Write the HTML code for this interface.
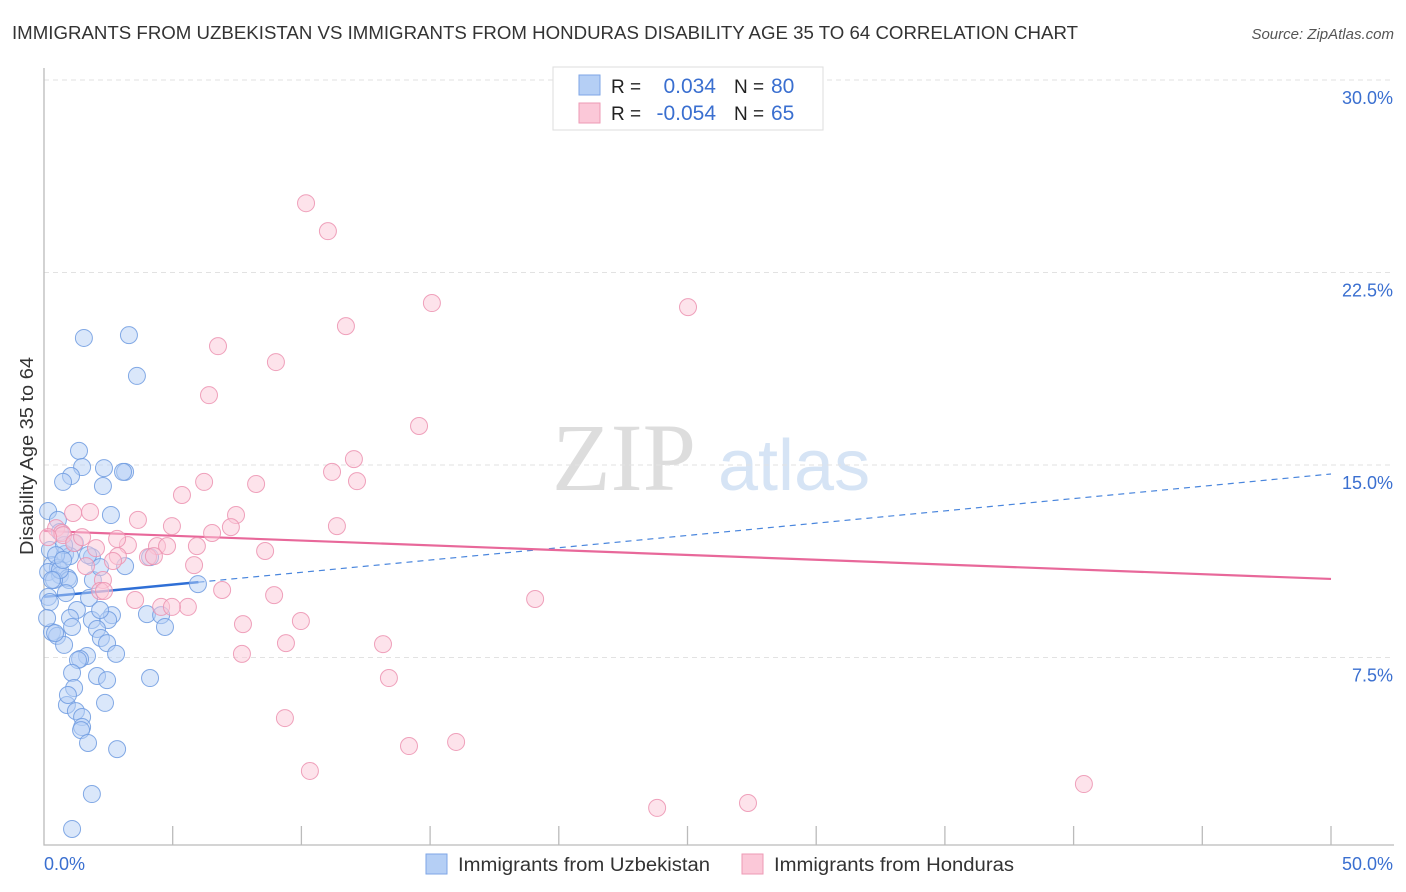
<!DOCTYPE html>
<html><head><meta charset="utf-8">
<style>
body{margin:0;background:#fff;font-family:"Liberation Sans",sans-serif;}
#wrap{position:relative;width:1406px;height:892px;overflow:hidden;}
</style></head>
<body><div id="wrap">
<svg id="svg" width="1406" height="892" xmlns="http://www.w3.org/2000/svg">
<text x="12" y="39" font-size="18.5" fill="#333" textLength="1066" lengthAdjust="spacingAndGlyphs">IMMIGRANTS FROM UZBEKISTAN VS IMMIGRANTS FROM HONDURAS DISABILITY AGE 35 TO 64 CORRELATION CHART</text>
<text x="1394" y="39" font-size="15" fill="#555" font-style="italic" text-anchor="end">Source: ZipAtlas.com</text>
<text x="33" y="456" font-size="18" fill="#333" text-anchor="middle" textLength="198" lengthAdjust="spacingAndGlyphs" transform="rotate(-90 33 456)">Disability Age 35 to 64</text>
<g><text x="552" y="490" font-family="Liberation Serif,serif" font-size="96" fill="#ddd">ZIP</text><text x="718" y="490" font-size="72" fill="#d6e4f5">atlas</text></g>
<g id="grid"></g><g id="axes"></g><g id="trend"></g><g id="pts"></g>
<g>
<rect x="553" y="67" width="270" height="63" fill="#fff" stroke="#ddd"/>
<rect x="579" y="75" width="21" height="20" fill="#b5cff5" stroke="#7ea6e6"/>
<rect x="579" y="103" width="21" height="20" fill="#fbc8d8" stroke="#ee9ab5"/>
<text x="611" y="93" font-size="19" fill="#222">R =</text><text x="716" y="93" font-size="21" fill="#3a6fd0" text-anchor="end">0.034</text>
<text x="734" y="93" font-size="19" fill="#222">N =</text><text x="771" y="93" font-size="21" fill="#3a6fd0">80</text>
<text x="611" y="120" font-size="19" fill="#222">R =</text><text x="716" y="120" font-size="21" fill="#3a6fd0" text-anchor="end">-0.054</text>
<text x="734" y="120" font-size="19" fill="#222">N =</text><text x="771" y="120" font-size="21" fill="#3a6fd0">65</text>
</g>
<g>
<rect x="426" y="854" width="21" height="20" fill="#b5cff5" stroke="#7ea6e6"/>
<text x="458" y="871" font-size="19" fill="#333" textLength="252" lengthAdjust="spacingAndGlyphs">Immigrants from Uzbekistan</text>
<rect x="742" y="854" width="21" height="20" fill="#fbc8d8" stroke="#ee9ab5"/>
<text x="774" y="871" font-size="19" fill="#333" textLength="240" lengthAdjust="spacingAndGlyphs">Immigrants from Honduras</text>
</g>
</svg>
<script>
const xTicks=[0,5,10,15,20,25,30,35,40,45,50];
const yTicks=[7.5,15,22.5,30];
const blueX=[1.55,3.30,3.61,1.36,1.48,2.33,3.15,3.07,1.05,0.74,2.29,0.16,2.60,0.54,0.62,1.20,0.23,0.82,1.01,1.86,0.31,0.54,0.16,0.62,0.93,0.97,0.39,1.90,3.15,4.12,5.98,0.16,0.85,1.75,0.23,1.28,1.01,2.64,4.00,4.55,1.86,2.49,1.09,4.70,0.31,2.06,0.51,2.21,0.78,2.45,2.80,1.67,1.40,1.32,1.09,2.06,2.45,4.12,1.17,0.89,1.24,2.37,1.48,1.48,1.44,1.71,2.84,1.86,1.09,0.43,0.62,2.18,0.78,0.47,1.71,0.12,2.18,0.93,0.74,0.31];
const blueY=[19.95,20.06,18.47,15.55,14.92,14.88,14.73,14.73,14.57,14.34,14.18,13.21,13.05,12.86,12.39,11.96,11.69,11.53,11.45,11.41,11.10,10.99,10.83,10.71,10.60,10.52,10.52,10.52,11.06,11.41,10.36,9.86,10.01,9.82,9.66,9.35,9.04,9.15,9.19,9.15,8.96,8.96,8.69,8.69,8.49,8.61,8.34,8.26,7.99,8.06,7.64,7.56,7.44,7.40,6.90,6.78,6.62,6.70,6.31,5.65,5.41,5.73,5.18,4.79,4.67,4.17,3.93,2.18,0.82,8.45,10.91,11.02,11.88,11.49,11.49,9.04,9.35,6.04,11.30,10.52];
const pinkX=[10.18,11.03,15.07,25.02,11.73,6.76,9.01,6.41,14.57,12.04,11.19,12.16,8.24,6.22,5.36,3.65,7.46,11.38,7.26,4.97,1.79,1.13,0.47,0.70,0.74,0.16,1.17,1.48,3.26,2.84,4.39,4.78,5.94,6.53,4.04,8.59,2.87,2.02,4.27,2.68,5.83,1.63,2.29,2.18,6.92,8.94,3.54,4.55,5.59,4.97,19.08,9.98,7.73,13.17,9.40,7.69,13.40,9.36,14.18,16.01,10.33,27.35,23.82,40.40,2.33];
const pinkY=[25.20,24.11,21.31,21.15,20.41,19.63,19.01,17.72,16.52,15.23,14.73,14.37,14.26,14.34,13.83,12.86,13.05,12.62,12.58,12.62,13.17,13.13,12.54,12.35,12.27,12.19,11.96,12.19,11.88,12.12,11.84,11.84,11.84,12.35,11.41,11.65,11.45,11.76,11.45,11.26,11.10,11.06,10.52,10.09,10.13,9.93,9.74,9.47,9.47,9.47,9.78,8.92,8.80,8.02,8.06,7.64,6.70,5.14,4.05,4.21,3.08,1.83,1.64,2.57,10.09];
const blueTrend=[9.86,14.65];
const blueSolidEnd=6;
const pinkTrend=[12.43,10.56];

const NS="http://www.w3.org/2000/svg";
const X=v=>44+v*25.74, Y=v=>850-v*25.667;
function mk(tag,attrs,parent){const e=document.createElementNS(NS,tag);for(const k in attrs)e.setAttribute(k,attrs[k]);parent.appendChild(e);return e;}
const grid=document.getElementById('grid'),axes=document.getElementById('axes'),trend=document.getElementById('trend'),pts=document.getElementById('pts');
yTicks.forEach(t=>{
 const l=mk('line',{x1:44,x2:1394,y1:Y(t),y2:Y(t),stroke:'#e2e2e2','stroke-dasharray':'5,4'},grid);
 
 
 const tx=mk('text',{x:1393,y:Y(t)+24,'font-size':18,fill:'#3a6fd0','text-anchor':'end'},grid);
 tx.textContent=t.toFixed(1)+'%';
 
 
});
const ax=mk('path',{d:'M44 68V845H1394',stroke:'#bbb',fill:'none','stroke-width':1.3},axes);


xTicks.forEach(t=>{
 if(t===0)return;
 const l=mk('line',{x1:X(t),x2:X(t),y1:826,y2:845,stroke:'#bbb','stroke-width':1.3},axes);
 
 
});
const x0=mk('text',{x:44,y:870,'font-size':18,fill:'#3a6fd0'},axes);x0.textContent=xTicks[0].toFixed(1)+'%';


const x1=mk('text',{x:1393,y:870,'font-size':18,fill:'#3a6fd0','text-anchor':'end'},axes);x1.textContent=xTicks[xTicks.length-1].toFixed(1)+'%';


function draw(xs,ys,fill,stroke,name){xs.forEach((v,i)=>{
 const c=mk('circle',{cx:X(v),cy:Y(ys[i]),r:8.5,fill:fill,'fill-opacity':0.5,stroke:stroke,'stroke-opacity':0.85,'stroke-width':1},pts);
 
 
});}
draw(blueX,blueY,'#b5cff5','#6f9be0','point-uzbekistan');
draw(pinkX,pinkY,'#fbc8d8','#ec92b0','point-honduras');
const by=x=>blueTrend[0]+(blueTrend[1]-blueTrend[0])*x/50;
const bd=mk('line',{x1:X(blueSolidEnd),y1:Y(by(blueSolidEnd)),x2:X(50),y2:Y(by(50)),stroke:'#4a86dd','stroke-width':1.2,'stroke-dasharray':'6,5'},trend);


const bs=mk('line',{x1:X(0),y1:Y(by(0)),x2:X(blueSolidEnd),y2:Y(by(blueSolidEnd)),stroke:'#2f6fd6','stroke-width':2.5},trend);


const ps=mk('line',{x1:X(0),y1:Y(pinkTrend[0]),x2:X(50),y2:Y(pinkTrend[1]),stroke:'#e8689a','stroke-width':2.2},trend);


</script>
</div></body></html>
